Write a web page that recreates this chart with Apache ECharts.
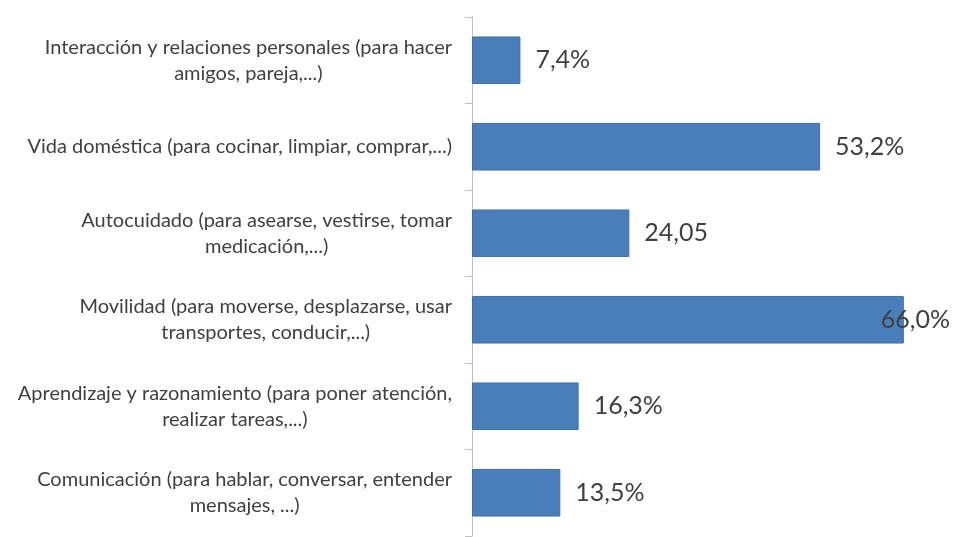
<!DOCTYPE html>
<html>
<head>
<meta charset="utf-8">
<script src="https://cdn.jsdelivr.net/npm/echarts@6/dist/echarts.min.js"></script>
<style>html,body{margin:0;padding:0;background:#fff;}#c{width:955px;height:537px;}</style>
</head>
<body>
<div id="c"></div>
<script>
var categories = [
  "Interacción y relaciones personales (para hacer\namigos, pareja,...)",
  "Vida doméstica (para cocinar, limpiar, comprar,...)",
  "Autocuidado (para asearse, vestirse, tomar\nmedicación,...)",
  "Movilidad (para moverse, desplazarse, usar\ntransportes, conducir,...)",
  "Aprendizaje y razonamiento (para poner atención,\nrealizar tareas,...)",
  "Comunicación (para hablar, conversar, entender\nmensajes, ...)"
];
var values = [7.4, 53.2, 24.05, 66.0, 16.3, 13.5];
var valueLabels = ["7,4%", "53,2%", "24,05", "66,0%", "16,3%", "13,5%"];

var chart = echarts.init(document.getElementById('c'), null, {renderer: 'canvas'});
var maxIdx = values.indexOf(Math.max.apply(null, values));
var seriesData = values.map(function (v, i) {
  var d = {value: v};
  if (i === maxIdx) {
    d.label = {offset: [-38, 0]};
  }
  return d;
});
chart.setOption({
  animation: false,
  backgroundColor: '#ffffff',
  grid: {left: 472, right: 25, top: 17, bottom: 1, containLabel: false},
  xAxis: {
    type: 'value', min: 0, max: 70, show: false
  },
  yAxis: {
    type: 'category', data: categories, inverse: true,
    axisLine: {show: true, lineStyle: {color: '#BFBFBF', width: 1}},
    axisTick: {show: true, length: 7, lineStyle: {color: '#BFBFBF'}},
    axisLabel: {
      margin: 20,
      color: '#404040',
      fontFamily: 'Lato',
      fontSize: 20,
      lineHeight: 26,
      formatter: function (val) {
        return val.split('\n').map(function (l) { return '{c|' + l + '}'; }).join('\n');
      },
      rich: {c: {align: 'center', color: '#404040', fontFamily: 'Lato', fontSize: 20, lineHeight: 26}}
    },
    splitLine: {show: false}
  },
  series: [{
    type: 'bar',
    data: seriesData,
    barCategoryGap: '45%',
    itemStyle: {color: '#4A7EBB', borderColor: '#3F70AA', borderWidth: 1},
    label: {
      show: true, position: 'right', distance: 15,
      color: '#404040', fontFamily: 'Lato', fontSize: 25,
      formatter: function (p) { return valueLabels[p.dataIndex]; }
    }
  }]
});
</script>
</body>
</html>
